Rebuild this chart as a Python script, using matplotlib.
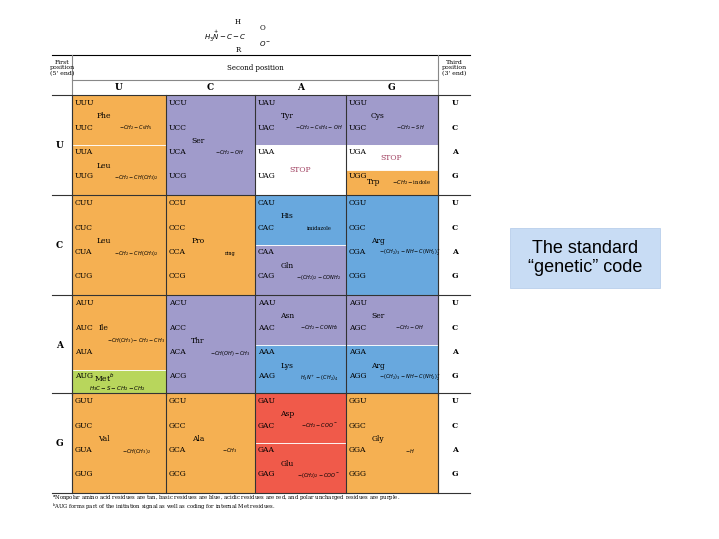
import matplotlib
matplotlib.use("Agg")
import matplotlib.pyplot as plt
from matplotlib.patches import Rectangle

bases = ["U", "C", "A", "G"]
# amino acid for each codon (first, second, third)
aa_table = {
 "U": {"U": ["Phe","Phe","Leu","Leu"], "C": ["Ser"]*4, "A": ["Tyr","Tyr","STOP","STOP"], "G": ["Cys","Cys","STOP","Trp"]},
 "C": {"U": ["Leu"]*4, "C": ["Pro"]*4, "A": ["His","His","Gln","Gln"], "G": ["Arg"]*4},
 "A": {"U": ["Ile","Ile","Ile","Met"], "C": ["Thr"]*4, "A": ["Asn","Asn","Lys","Lys"], "G": ["Ser","Ser","Arg","Arg"]},
 "G": {"U": ["Val"]*4, "C": ["Ala"]*4, "A": ["Asp","Asp","Glu","Glu"], "G": ["Gly"]*4},
}
aa_class = {"Phe":"np","Leu":"np","Ile":"np","Val":"np","Pro":"np","Ala":"np","Gly":"np","Trp":"np",
            "Met":"met","Ser":"pol","Thr":"pol","Tyr":"pol","Cys":"pol","Asn":"pol","Gln":"pol",
            "His":"bas","Lys":"bas","Arg":"bas","Asp":"acd","Glu":"acd","STOP":"stop"}
class_color = {"np":"#F5B052","met":"#B8D65C","pol":"#A09BCB","bas":"#68A8DE","acd":"#F05A4A","stop":"#FFFFFF"}
side_chain = {"Phe":r"$-CH_2-C_6H_5$","Leu":r"$-CH_2-CH(CH_3)_2$","Ser":r"$-CH_2-OH$","Tyr":r"$-CH_2-C_6H_4-OH$",
              "Cys":r"$-CH_2-SH$","Trp":r"$-CH_2-$indole","Pro":"ring","His":"imidazole","Gln":r"$-(CH_2)_2-CONH_2$",
              "Arg":r"$-(CH_2)_3-NH-C(NH_2)_2^+$","Ile":r"$-CH(CH_3)-CH_2-CH_3$","Met":r"$H_3C-S-CH_2-CH_2$",
              "Thr":r"$-CH(OH)-CH_3$","Asn":r"$-CH_2-CONH_2$","Lys":r"$H_3N^+-(CH_2)_4$","Val":r"$-CH(CH_3)_2$",
              "Ala":r"$-CH_3$","Asp":r"$-CH_2-COO^-$","Glu":r"$-(CH_2)_2-COO^-$","Gly":r"$-H$"}

W, H = 719, 539
fig = plt.figure(figsize=(W/100, H/100), dpi=100)
ax = fig.add_axes([0, 0, 1, 1])
ax.set_xlim(0, W); ax.set_ylim(H, 0); ax.axis("off")

col_x = [72, 166, 255, 346, 438]
row_y = [95, 195, 295, 393, 493]
left, right = 52, 470
fs = 5.5
ser = dict(family="DejaVu Serif")

# header
ax.plot([left, right], [55, 55], color="k", lw=0.8)
ax.plot([72, 72], [55, 493], color="#888", lw=0.8)
ax.plot([438, 438], [55, 493], color="#888", lw=0.8)
ax.plot([72, 438], [80, 80], color="#888", lw=0.8)
ax.text(62, 68, "First\nposition\n(5' end)", fontsize=4.5, ha="center", va="center", **ser)
ax.text(454, 68, "Third\nposition\n(3' end)", fontsize=4.5, ha="center", va="center", **ser)
ax.text(255, 68, "Second position", fontsize=5, ha="center", va="center", **ser)
for j, b in enumerate(bases):
    ax.text((col_x[j]+col_x[j+1])/2, 88, b, fontsize=6.5, weight="bold", ha="center", va="center", **ser)

for i, f in enumerate(bases):
    y0 = row_y[i]
    for j, s in enumerate(bases):
        x0 = col_x[j]
        aas = aa_table[f][s]
        k = 0
        while k < 4:
            aa = aas[k]; n = 1
            while k+n < 4 and aas[k+n] == aa:
                n += 1
            ya = y0 + k*25; yb = y0 + (k+n)*25
            ax.add_patch(Rectangle((x0, ya), col_x[j+1]-x0, yb-ya, facecolor=class_color[aa_class[aa]],
                                   edgecolor="white", lw=0.6))
            ym = (ya+yb)/2
            if aa == "STOP":
                ax.text(x0+45, ym, "STOP", fontsize=fs, color="#A04060", ha="center", va="center", **ser)
            elif aa == "Met":
                ax.text(x0+32, ym-5, "Met$^b$", fontsize=fs, ha="center", va="center", **ser)
                ax.text(x0+45, ym+6, side_chain[aa], fontsize=4, ha="center", va="center", **ser)
            elif n == 1:
                ax.text(x0+28, ym, aa, fontsize=fs, ha="center", va="center", **ser)
                ax.text(x0+66, ym, side_chain[aa], fontsize=3.8, ha="center", va="center", **ser)
            else:
                ax.text(x0+32, ym-4, aa, fontsize=fs, ha="center", va="center", **ser)
                ax.text(x0+64, ym + 8, side_chain[aa], fontsize=3.6, ha="center", va="center", **ser)
            k += n
        for t, b3 in enumerate(bases):
            ax.text(x0+3, y0+8+t*24.5, f+s+b3, fontsize=fs, ha="left", va="center", **ser)
    for j in range(5):
        ax.plot([col_x[j], col_x[j]], [y0, y0+100 if i < 3 else 493], color="#333", lw=0.8)
    ax.plot([left, right], [y0, y0], color="#333", lw=0.8)
    ax.text(56, y0+50, f, fontsize=6.5, weight="bold", ha="left", va="center", **ser)
    for t, b3 in enumerate(bases):
        ax.text(455, y0+8+t*24.5, b3, fontsize=5.5, weight="bold", ha="center", va="center", **ser)
ax.plot([left, right], [493, 493], color="#333", lw=0.8)

# generic amino acid
ax.text(238, 22, "H", fontsize=5, ha="center", va="center", **ser)
ax.text(225, 36, r"$H_3\overset{+}{N}-C-C$", fontsize=5, ha="center", va="center")
ax.text(262, 28, "O", fontsize=5, ha="center", va="center", **ser)
ax.text(265, 44, r"$O^-$", fontsize=5, ha="center", va="center")
ax.text(238, 50, "R", fontsize=5, ha="center", va="center", **ser)

ax.text(52, 498, "$^a$Nonpolar amino acid residues are tan, basic residues are blue, acidic residues are red, and polar uncharged residues are purple.",
        fontsize=3.8, ha="left", va="center", **ser)
ax.text(52, 507, "$^b$AUG forms part of the initiation signal as well as coding for internal Met residues.",
        fontsize=3.8, ha="left", va="center", **ser)

ax.add_patch(Rectangle((510, 228), 150, 60, facecolor="#C8DCF4", edgecolor="#B0C8E8", lw=0.5))
ax.text(585, 258, "The standard\n\u201cgenetic\u201d code", fontsize=13, ha="center", va="center",
        family="Liberation Sans", linespacing=1.2)

fig.savefig("out.png", dpi=100)
